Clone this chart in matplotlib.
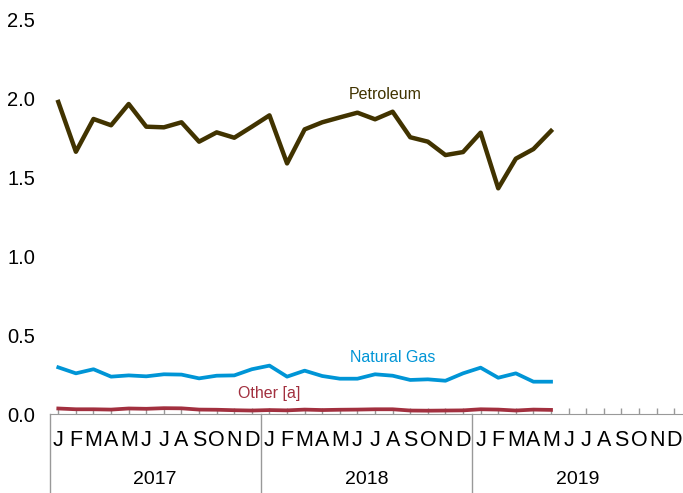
import numpy as np
import matplotlib.pyplot as plt
from matplotlib.transforms import blended_transform_factory

plt.rcParams['font.family'] = ['Liberation Sans', 'DejaVu Sans']

months = ['J', 'F', 'M', 'A', 'M', 'J', 'J', 'A', 'S', 'O', 'N', 'D']
years = ['2017', '2018', '2019']

petroleum = [1.98, 1.664, 1.872, 1.832, 1.967, 1.823, 1.819, 1.851, 1.728, 1.787,
             1.753, 1.823, 1.895, 1.59, 1.806, 1.851, 1.882, 1.912, 1.870, 1.918,
             1.756, 1.728, 1.643, 1.662, 1.785, 1.432, 1.62, 1.681, 1.796]
natural_gas = [0.296, 0.258, 0.284, 0.237, 0.245, 0.239, 0.252, 0.250, 0.226, 0.243,
               0.245, 0.284, 0.307, 0.237, 0.275, 0.241, 0.224, 0.224, 0.252, 0.243,
               0.216, 0.220, 0.211, 0.258, 0.294, 0.230, 0.258, 0.205, 0.205]
other = [0.035, 0.030, 0.030, 0.028, 0.035, 0.033, 0.037, 0.036, 0.028, 0.027,
         0.024, 0.022, 0.025, 0.023, 0.028, 0.025, 0.027, 0.028, 0.030, 0.030,
         0.022, 0.021, 0.022, 0.023, 0.030, 0.028, 0.022, 0.028, 0.026]

fig = plt.figure(figsize=(6.83, 4.93), dpi=100)
ax = fig.add_axes([49.5 / 683, 79 / 493, 633.5 / 683, 394 / 493])

x = np.arange(len(petroleum))
ax.plot(x, petroleum, color='#413300', lw=3.2)
ax.plot(x, natural_gas, color='#0095d6', lw=2.7)
ax.plot(x, other, color='#a2303f', lw=2.7)

ax.text(18.6, 2.03, 'Petroleum', color='#413300', fontsize=11.5, ha='center', va='center')
ax.text(19.0, 0.36, 'Natural Gas', color='#0095d6', fontsize=11.5, ha='center', va='center')
ax.text(12.0, 0.13, 'Other [a]', color='#a2303f', fontsize=11.5, ha='center', va='center')

ax.set_xlim(-0.5, 35.5)
ax.set_ylim(0, 2.5)
ax.set_yticks([0, 0.5, 1.0, 1.5, 2.0, 2.5])
ax.set_yticklabels(['0.0', '0.5', '1.0', '1.5', '2.0', '2.5'], fontsize=14.5)
ax.tick_params(axis='y', length=0, pad=10.5)
ax.set_xticks(np.arange(36))
ax.set_xticklabels([])
ax.tick_params(axis='x', direction='in', length=4, color='#999999', width=1)
for s in ['top', 'right', 'left']:
    ax.spines[s].set_visible(False)
ax.spines['bottom'].set_color('#999999')

trans = blended_transform_factory(ax.transData, fig.transFigure)
for i in range(36):
    ax.text(i, 1 - 440 / 493, months[i % 12], transform=trans, fontsize=15.5,
            ha='center', va='center', clip_on=False)
for k, yr in enumerate(years):
    ax.text(k * 12 + 5.5, 1 - 480 / 493, yr, transform=trans, fontsize=14,
            ha='center', va='center', clip_on=False)
    ax.plot([k * 12 - 0.5, k * 12 - 0.5], [79 / 493, 0], transform=trans,
            color='#999999', lw=1, clip_on=False)

fig.savefig('out.png', dpi=100)
